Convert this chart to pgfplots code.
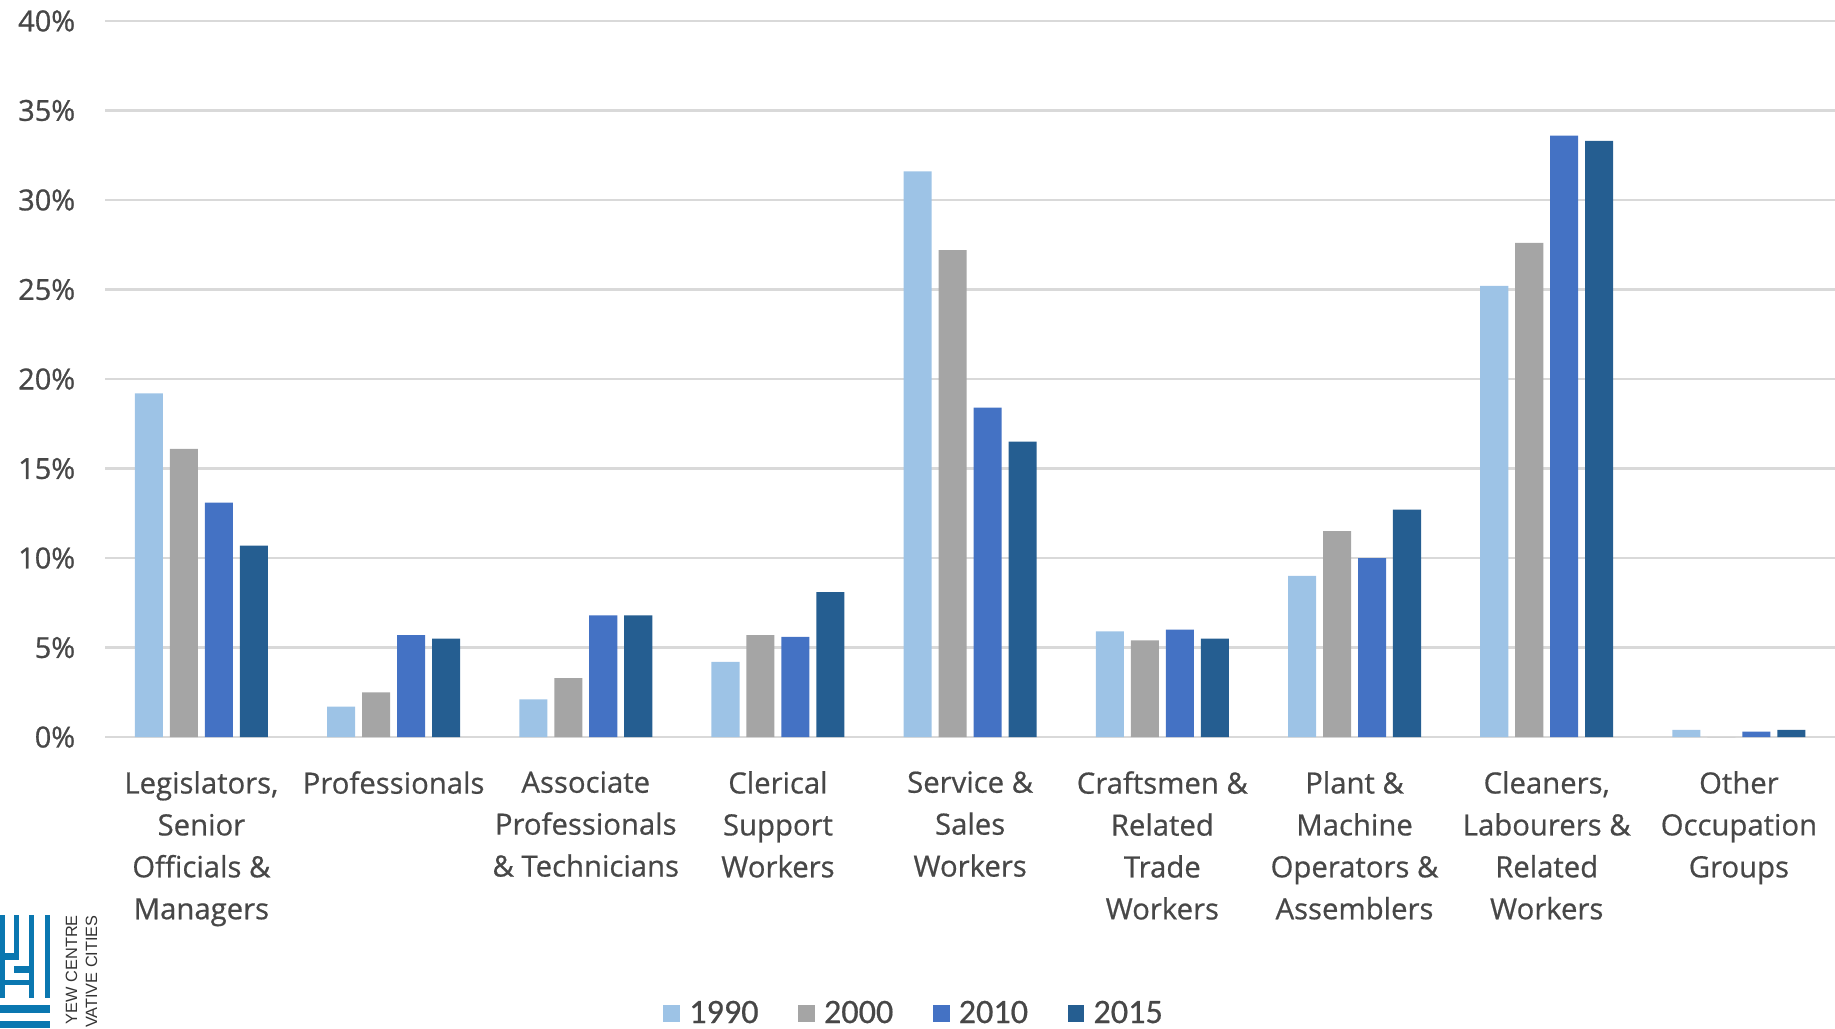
\documentclass[border=0pt]{standalone}
\usepackage{fontspec}
\setmainfont{Open Sans}[FakeBold=0.6]
\newfontfamily\tickfont{Open Sans}[FakeBold=0.9]
\newfontfamily\legfont{Carlito}[FakeBold=0.5]
\newfontfamily\logofont{Liberation Sans}
\usepackage{pgfplots}
\pgfplotsset{compat=1.18}
\usetikzlibrary{calc}

\definecolor{c1990}{HTML}{9DC3E6}
\definecolor{c2000}{HTML}{A5A5A5}
\definecolor{c2010}{HTML}{4472C4}
\definecolor{c2015}{HTML}{255E91}
\definecolor{gridc}{HTML}{D9D9D9}
\definecolor{txt}{HTML}{474747}
\definecolor{logoblue}{HTML}{0A77B0}

\begin{document}
\begin{tikzpicture}
\begin{axis}[
  width=34.66cm, height=14.35cm, scale only axis,
  xmin=-0.5, xmax=8.5, ymin=0, ymax=40,
  ybar=0.139cm, bar width=0.562cm,
  axis line style={draw=none},
  major tick length=0pt,
  ymajorgrids=true, grid style={gridc, line width=1.3pt},
  ytick={0,5,...,40},
  yticklabels={0\%,5\%,10\%,15\%,20\%,25\%,30\%,35\%,40\%},
  yticklabel style={font=\tickfont\fontsize{16.5}{18}\selectfont, text=txt, xshift=-0.48cm},
  xtick={0,...,8},
  xticklabels={
    {Legislators,\\Senior\\Officials \&\\Managers},
    {Professionals},
    {Associate\\Professionals\\\& Technicians},
    {Clerical\\Support\\Workers},
    {Service \&\\Sales\\Workers},
    {Craftsmen \&\\Related\\Trade\\Workers},
    {Plant \&\\Machine\\Operators \&\\Assemblers},
    {Cleaners,\\Labourers \&\\Related\\Workers},
    {Other\\Occupation\\Groups}},
  xticklabel style={align=center, anchor=north, yshift=-0.56cm,
    font=\fontsize{16.7}{23.9}\selectfont, text=txt},
  legend columns=4,
  legend style={at={(0.468,-0.3856)}, anchor=center, draw=none,
    font=\legfont\fontsize{19.5}{22}\selectfont, text=txt,
    /tikz/every even column/.append style={column sep=0.72cm}},
  legend image code/.code={
    \fill[#1] (0cm,-0.17cm) rectangle (0.34cm,0.17cm);
    \path (0.45cm,0cm);},
]
\addplot[fill=c1990, draw=none] coordinates {(0,19.2) (1,1.7) (2,2.1) (3,4.2) (4,31.6) (5,5.9) (6,9.0) (7,25.2) (8,0.4)};
\addplot[fill=c2000, draw=none] coordinates {(0,16.1) (1,2.5) (2,3.3) (3,5.7) (4,27.2) (5,5.4) (6,11.5) (7,27.6) (8,0.0)};
\addplot[fill=c2010, draw=none] coordinates {(0,13.1) (1,5.7) (2,6.8) (3,5.6) (4,18.4) (5,6.0) (6,10.0) (7,33.6) (8,0.3)};
\addplot[fill=c2015, draw=none] coordinates {(0,10.7) (1,5.5) (2,6.8) (3,8.1) (4,16.5) (5,5.5) (6,12.7) (7,33.3) (8,0.4)};
\legend{1990,2000,2010,2015}
\coordinate (O) at (rel axis cs:0,0);
\coordinate (T) at (rel axis cs:1,1);
\end{axis}
\coordinate (BL) at ($(O)+(-2.11cm,-5.83cm)$);
% cropped logo in the lower left corner
\begin{scope}[shift={($(BL)+(0,2.6cm)$)}, x=0.006667cm, y=-0.006667cm]
  \fill[logoblue] (0,50) rectangle (14,300);
  \fill[logoblue] (42,50) rectangle (57,175);
  \fill[logoblue] (88,50) rectangle (103,300);
  \fill[logoblue] (135,50) rectangle (150,300);
  \fill[logoblue] (0,165) rectangle (57,185);
  \fill[logoblue] (42,205) rectangle (103,225);
  \fill[logoblue] (14,245) rectangle (88,262);
  \fill[logoblue] (0,320) rectangle (150,345);
  \fill[logoblue] (0,370) rectangle (150,390);
  \node[rotate=90, anchor=east, inner sep=0pt, text=black!80,
    font=\logofont\fontsize{9.3}{10}\selectfont] at (215,50) {YEW CENTRE};
  \node[rotate=90, anchor=east, inner sep=0pt, text=black!80,
    font=\logofont\fontsize{9.3}{10}\selectfont] at (275,50) {VATIVE CITIES};
\end{scope}
\pgfresetboundingbox
\useasboundingbox (BL) rectangle ($(T)+(0,0.42cm)$);
\end{tikzpicture}
\end{document}
